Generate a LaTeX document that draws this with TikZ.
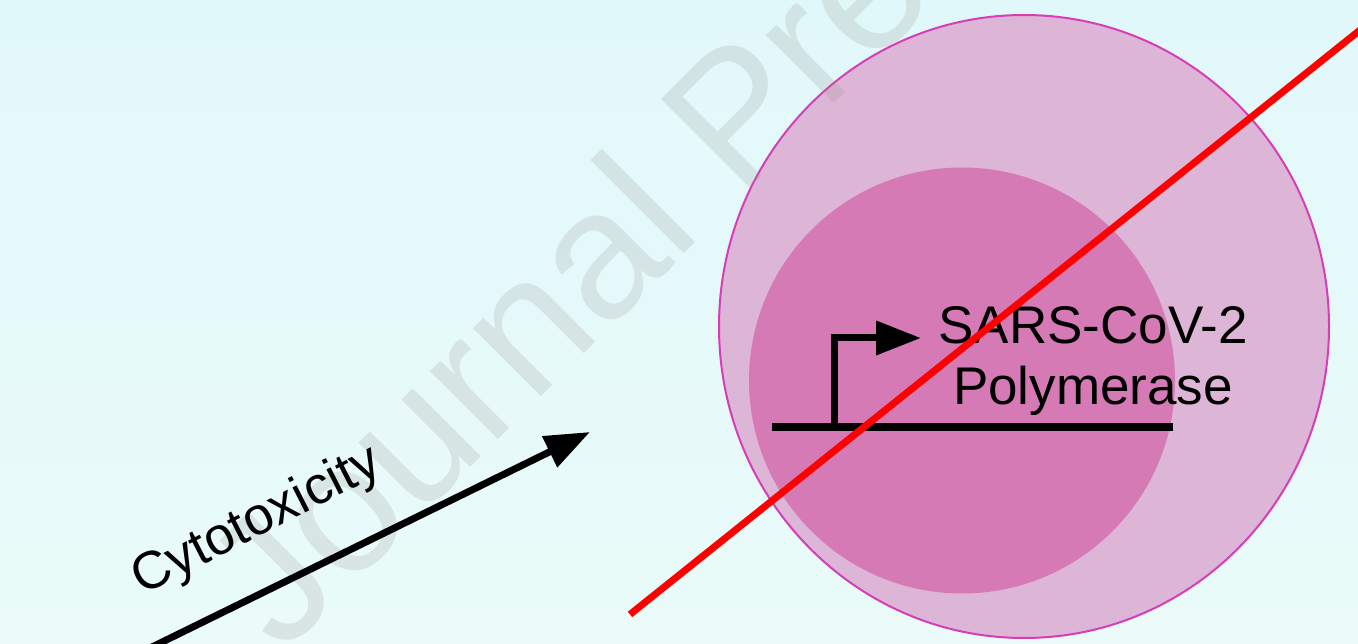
\documentclass[tikz,border=0pt]{standalone}
\usepackage{fontspec}
\setmainfont{Liberation Sans}
\usetikzlibrary{arrows.meta}
\definecolor{bgtop}{HTML}{E1F8FA}
\definecolor{bgbot}{HTML}{EAFBF9}
\definecolor{cellout}{HTML}{DDB5D6}
\definecolor{cellin}{HTML}{D67AB6}
\definecolor{cellrim}{HTML}{D63DB8}
\definecolor{wmark}{RGB}{150,145,140}
\definecolor{crossred}{HTML}{FF0000}
\begin{document}
\begin{tikzpicture}[x=1pt,y=-1pt,
  blackarrow/.style={line width=7pt,line join=miter,-{Triangle[length=45pt,width=33pt]}},
  dnaline/.style={line width=8pt},
  crossline/.style={crossred,line width=7pt},
  labeltext/.style={inner sep=0pt,font=\fontsize{53}{60}\selectfont},
  watermark/.style={inner sep=0pt,text=wmark,text opacity=0.2,font=\fontsize{182}{200}\selectfont}]
\clip (0,0) rectangle (1358,644);
\fill[top color=bgtop,bottom color=bgbot] (0,0) rectangle (1358,644);
% cell and nucleus
\filldraw[fill=cellout,draw=cellrim,line width=2pt] (1024,326.5) ellipse [x radius=305,y radius=311.5];
\fill[cellin] (962,380.5) circle [radius=213];
% watermark
\node[watermark,rotate=45,anchor=base west] (wm) at (282,656) {Journal Pre};
% gene
\coordinate (dnaL) at (772,426.5);
\coordinate (dnaR) at (1172.5,426.5);
\draw[dnaline] (dnaL) -- (dnaR);
\coordinate (tss) at (834,426.5);
\coordinate (bend) at (834,338);
\coordinate (ptip) at (921,338);
\draw[blackarrow] (tss) -- (bend) -- (ptip);
\node[labeltext,anchor=base] (sars) at (1093,343.5) {SARS-CoV-2};
\node[labeltext,anchor=base] (poly) at (1093,404) {Polymerase};
% cross-out line
\coordinate (xa) at (630,614.4);
\coordinate (xb) at (1380,14.1);
\draw[crossline] (xa) -- (xb);
% cytotoxicity arrow
\coordinate (cytA) at (150,648);
\coordinate (cytB) at (590,432);
\draw[blackarrow] (cytA) -- (cytB);
\node[inner sep=0pt,font=\fontsize{53}{60}\selectfont,rotate=27] (cyt) at (257,522) {Cytotoxicity};
\end{tikzpicture}
\end{document}
